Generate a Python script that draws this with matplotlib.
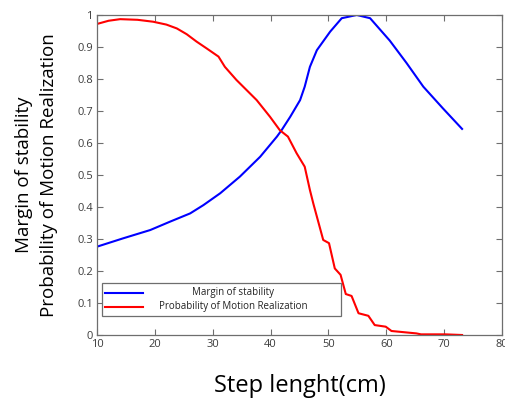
import numpy as np
import matplotlib.pyplot as plt

# step length (cm) and curves
step_ms = [10, 14.5, 19.2, 22.6, 26.1, 28.4, 31.3, 34.7, 38.2, 41.1, 41.9, 43.4, 45.1, 45.9, 46.8,
           48.0, 50.3, 52.3, 54.9, 57.2, 60.6, 63.5, 66.4, 69.8, 73.1]
margin = [0.276, 0.302, 0.328, 0.354, 0.380, 0.406, 0.443, 0.495, 0.557, 0.620, 0.640,
          0.682, 0.734, 0.776, 0.838, 0.890, 0.948, 0.990, 1.0, 0.990, 0.920, 0.850, 0.776, 0.708, 0.644]

step_p = [10, 12, 14, 17, 19.7, 22, 23.8, 25.5, 27.2, 29, 31.0, 32.1, 34.1, 37.6, 39.9, 41.6, 43.0,
          44.5, 45.9, 46.8, 47.4, 49.1, 50.1, 51.1, 52.1, 53.0, 54.0, 55.2, 56.9, 58.0, 59.9,
          60.9, 65.2, 66.0, 70.2, 73.1]
prob = [0.972, 0.982, 0.987, 0.985, 0.979, 0.970, 0.958, 0.940, 0.917, 0.895, 0.870, 0.838, 0.797,
        0.734, 0.682, 0.640, 0.620, 0.568, 0.526, 0.453, 0.410, 0.297, 0.287, 0.208, 0.188,
        0.128, 0.122, 0.068, 0.060, 0.031, 0.026, 0.0125, 0.005, 0.002, 0.002, 0.0]

xticks = [10, 20, 30, 40, 50, 60, 70, 80]
yticks = [0, 0.1, 0.2, 0.3, 0.4, 0.5, 0.6, 0.7, 0.8, 0.9, 1]
ytick_labels = ['0', '0.1', '0.2', '0.3', '0.4', '0.5', '0.6', '0.7', '0.8', '0.9', '1']

plt.rcParams['font.family'] = ['Open Sans', 'DejaVu Sans']

fig = plt.figure(figsize=(5.06, 4.01), dpi=100)
ax = fig.add_axes([97/506, 1 - 335/401, 405/506, 320/401])

ax.plot(step_ms, margin, color='#0000ff', lw=1.5)
ax.plot(step_p, prob, color='#ff0000', lw=1.5)

ax.set_xlim(10, 80)
ax.set_ylim(0, 1)
ax.set_xticks(xticks)
ax.set_yticks(yticks)
ax.set_yticklabels(ytick_labels)
ax.tick_params(direction='in', length=4, width=0.8, top=True, right=True,
               labelsize=8, labelcolor='#3c3c3c', color='#6e6e6e', pad=3)
for s in ax.spines.values():
    s.set_color('#6e6e6e')
    s.set_linewidth(0.9)

ax.set_xlabel('Step lenght(cm)', fontsize=17, labelpad=17)
ax.set_ylabel('Margin of stability\nProbability of Motion Realization', fontsize=13.5,
              linespacing=1.45, labelpad=14)

# legend drawn by hand so the labels sit centred like the original
def ax_xy(px, py):
    return (px - 97) / 405, (335 - py) / 320

x0, y0 = ax_xy(102, 316)
x1, y1 = ax_xy(341, 283)
ax.add_patch(plt.Rectangle((x0, y0), x1 - x0, y1 - y0, transform=ax.transAxes,
                           fill=True, facecolor='white', edgecolor='#6e6e6e', lw=0.9, zorder=5))
for py, col, lab in [(293, '#0000ff', 'Margin of stability'),
                     (306.5, '#ff0000', 'Probability of Motion Realization')]:
    a, b = ax_xy(105, py)
    c, _ = ax_xy(143, py)
    ax.plot([a, c], [b, b], transform=ax.transAxes, color=col, lw=1.5, zorder=6)
    tx, _ = ax_xy(233, py)
    ax.text(tx, b, lab, transform=ax.transAxes, ha='center', va='center',
            fontsize=7, color='#222222', zorder=6)

fig.savefig('out.png', dpi=100)
